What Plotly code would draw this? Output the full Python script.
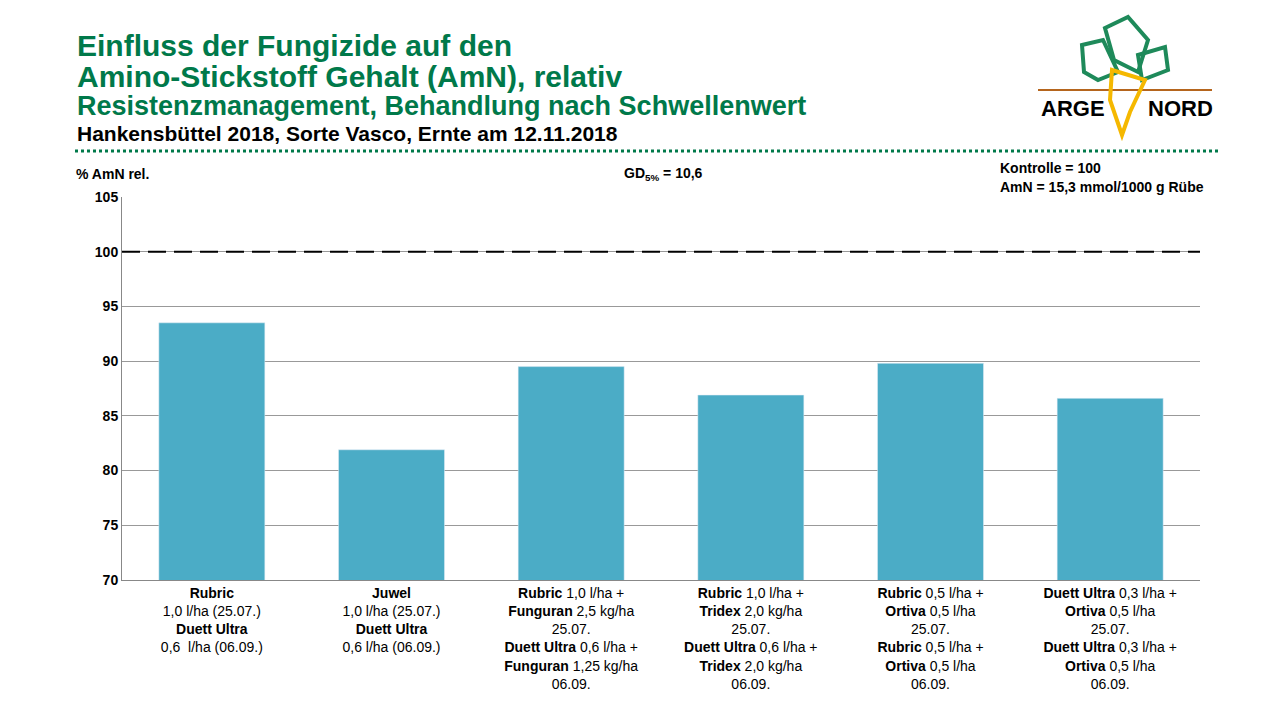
import plotly.graph_objects as go

categories = [
    "<b>Rubric</b><br>1,0 l/ha (25.07.)<br><b>Duett Ultra</b><br>0,6  l/ha (06.09.)",
    "<b>Juwel</b><br>1,0 l/ha (25.07.)<br><b>Duett Ultra</b><br>0,6 l/ha (06.09.)",
    "<b>Rubric</b> 1,0 l/ha +<br><b>Funguran</b> 2,5 kg/ha<br>25.07.<br><b>Duett Ultra</b> 0,6 l/ha +<br><b>Funguran</b> 1,25 kg/ha<br>06.09.",
    "<b>Rubric</b> 1,0 l/ha +<br><b>Tridex</b> 2,0 kg/ha<br>25.07.<br><b>Duett Ultra</b> 0,6 l/ha +<br><b>Tridex</b> 2,0 kg/ha<br>06.09.",
    "<b>Rubric</b> 0,5 l/ha +<br><b>Ortiva</b> 0,5 l/ha<br>25.07.<br><b>Rubric</b> 0,5 l/ha +<br><b>Ortiva</b> 0,5 l/ha<br>06.09.",
    "<b>Duett Ultra</b> 0,3 l/ha +<br><b>Ortiva</b> 0,5 l/ha<br>25.07.<br><b>Duett Ultra</b> 0,3 l/ha +<br><b>Ortiva</b> 0,5 l/ha<br>06.09.",
]
values = [93.5, 81.9, 89.5, 86.9, 89.8, 86.6]
control = 100

green = "#00794A"
font = "Liberation Sans, Arial, sans-serif"

# page body adds 8px offset; plot area target: x 122..1200, y 197..580
OFF = 8
L, T, R, B = 122 - OFF, 197 - OFF, 1200 - OFF, 580 - OFF
W, H = 1280, 720

fig = go.Figure()
fig.add_trace(go.Bar(x=list(range(len(values))), y=values, marker_color="#4BACC6",
                     width=0.59, showlegend=False))
fig.add_trace(go.Scatter(x=[-0.5, 5.55], y=[control, control], mode="lines",
                         line=dict(color="black", width=2, dash="18px,8px"),
                         showlegend=False, cliponaxis=False))

fig.update_layout(
    width=W, height=H, plot_bgcolor="white", paper_bgcolor="white",
    margin=dict(l=L, r=W - R, t=T, b=H - B),
    font=dict(family=font, size=14, color="black"),
    xaxis=dict(tickmode="array", tickvals=list(range(6)), ticktext=categories,
               range=[-0.5, 5.5], showline=True, linecolor="#888", ticks="",
               tickfont=dict(size=14)),
    yaxis=dict(range=[70, 105], dtick=5, showgrid=True, gridcolor="#999",
               showline=True, linecolor="#888", ticks="", tickprefix="<b>",
               ticksuffix="</b>", tickfont=dict(size=14)),
)


def px2paper(x, y):
    x -= OFF
    y -= OFF
    return (x - L) / (R - L), (B - y) / (B - T)


anns = [
    (75, 45, "<b>Einfluss der Fungizide auf den</b>", 30, green),
    (75, 76, "<b>Amino-Stickstoff Gehalt (AmN), relativ</b>", 30, green),
    (75, 106, "<b>Resistenzmanagement, Behandlung nach Schwellenwert</b>", 27, green),
    (75, 134, "<b>Hankensbüttel 2018, Sorte Vasco, Ernte am 12.11.2018</b>", 21, "black"),
    (74, 174, "<b>% AmN rel.</b>", 14, "black"),
    (622, 174, "<b>GD<sub>5%</sub> = 10,6</b>", 14, "black"),
    (998, 168, "<b>Kontrolle = 100</b>", 14, "black"),
    (998, 187, "<b>AmN = 15,3 mmol/1000 g Rübe</b>", 14, "black"),
]
for x, y, t, s, c in anns:
    ax, ay = px2paper(x, y)
    fig.add_annotation(x=ax, y=ay, xref="paper", yref="paper",
                       xanchor="left", yanchor="middle", text=t, showarrow=False,
                       font=dict(size=s, color=c, family=font))

# dotted separator
x0, y0 = px2paper(75, 151)
x1, _ = px2paper(1220, 151)
fig.add_shape(type="line", xref="paper", yref="paper", x0=x0, x1=x1, y0=y0, y1=y0,
              line=dict(color=green, width=3, dash="dot"))

# logo
lx0, ly = px2paper(1038, 90)
lx1, _ = px2paper(1212, 90)
fig.add_shape(type="line", xref="paper", yref="paper", x0=lx0, x1=lx1, y0=ly, y1=ly,
              line=dict(color="#B5651D", width=2))
for pts in [[(1082, 45), (1103, 40), (1118, 72), (1098, 80), (1084, 72)],
            [(1105, 28), (1128, 17), (1148, 40), (1138, 72), (1114, 60)],
            [(1138, 55), (1165, 47), (1168, 70), (1142, 80)]]:
    path = "M " + " L ".join("%f,%f" % px2paper(x, y) for x, y in pts) + " Z"
    fig.add_shape(type="path", xref="paper", yref="paper", path=path,
                  line=dict(color="#1E8A5A", width=4))
pts = [(1112, 70), (1145, 80), (1130, 112), (1122, 135), (1110, 100)]
path = "M " + " L ".join("%f,%f" % px2paper(x, y) for x, y in pts) + " Z"
fig.add_shape(type="path", xref="paper", yref="paper", path=path,
              line=dict(color="#F5B800", width=4))
for x, t in [(1039, "ARGE"), (1146, "NORD")]:
    ax, ay = px2paper(x, 109)
    fig.add_annotation(x=ax, y=ay, xref="paper", yref="paper", xanchor="left",
                       yanchor="middle", text="<b>%s</b>" % t, showarrow=False,
                       font=dict(size=22, color="black", family=font))

fig.write_html("out.html")
